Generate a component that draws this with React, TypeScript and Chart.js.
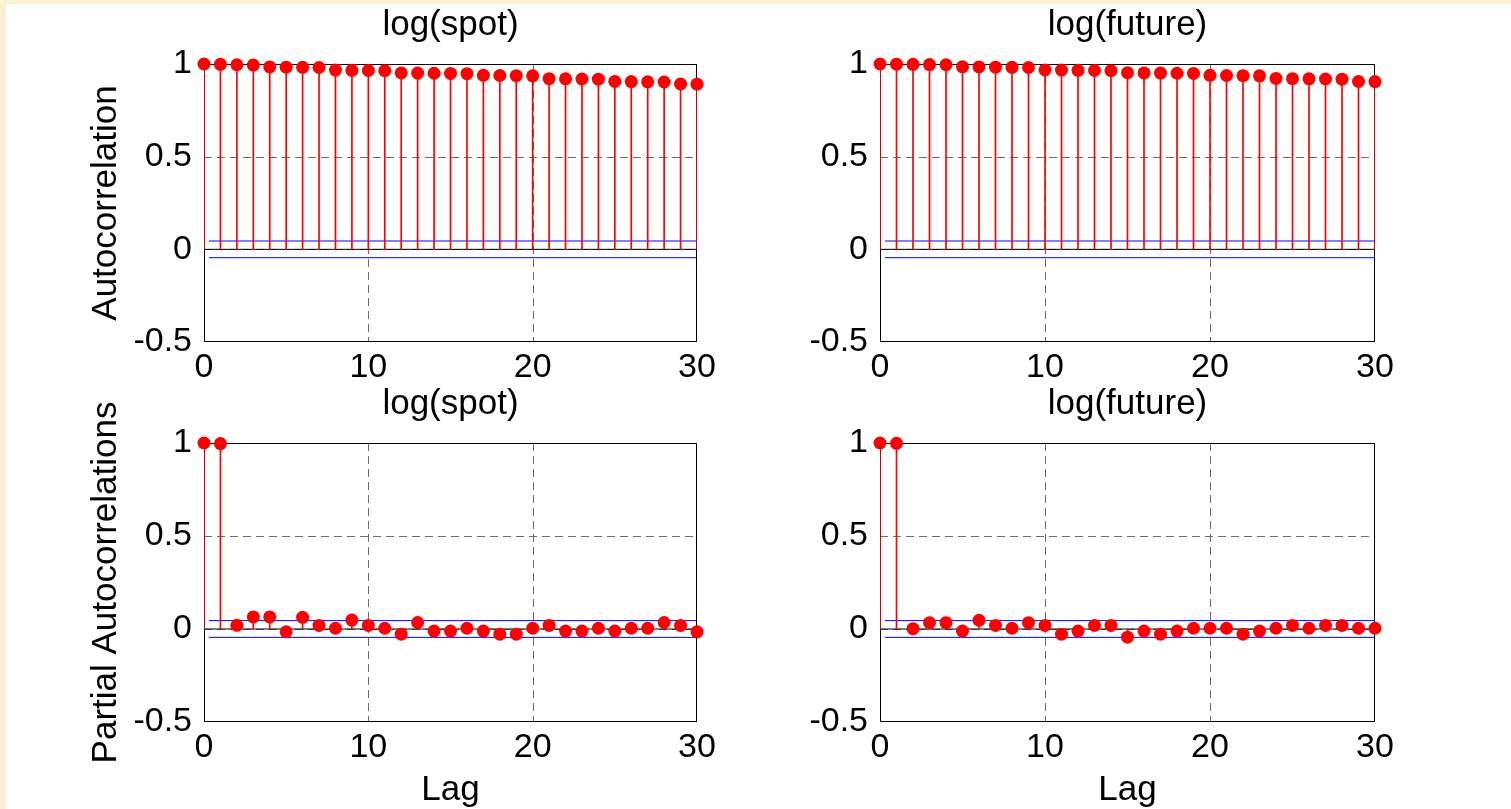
import React, { useEffect, useRef } from "react";
import { Chart, registerables } from "chart.js";

Chart.register(...registerables);

// Lags shown on every panel
const LAGS = [0, 1, 2, 3, 4, 5, 6, 7, 8, 9, 10, 11, 12, 13, 14, 15, 16, 17, 18, 19, 20, 21, 22, 23, 24, 25, 26, 27, 28, 29, 30];

// Sample autocorrelations
const ACF_SPOT = [
  1, 0.998, 0.996, 0.994, 0.984, 0.983, 0.982, 0.981, 0.967, 0.966, 0.965, 0.964, 0.952, 0.951, 0.95, 0.949,
  0.948, 0.939, 0.938, 0.937, 0.936, 0.921, 0.92, 0.919, 0.918, 0.906, 0.905, 0.904, 0.903, 0.892, 0.891,
];
const ACF_FUTURE = [
  1, 0.999, 0.998, 0.997, 0.996, 0.985, 0.984, 0.983, 0.982, 0.981, 0.968, 0.967, 0.966, 0.965, 0.964, 0.953,
  0.952, 0.951, 0.95, 0.949, 0.939, 0.938, 0.937, 0.936, 0.922, 0.921, 0.92, 0.919, 0.918, 0.906, 0.905,
];

// Sample partial autocorrelations
const PACF_SPOT = [
  1, 0.997, 0.02, 0.065, 0.065, -0.015, 0.063, 0.019, 0.004, 0.048, 0.019, 0.004, -0.028, 0.035, -0.011, -0.011,
  0.004, -0.011, -0.028, -0.028, 0.004, 0.019, -0.011, -0.011, 0.004, -0.011, 0.004, 0.004, 0.035, 0.019, -0.015,
];
const PACF_FUTURE = [
  1, 0.998, 0.002, 0.034, 0.034, -0.011, 0.047, 0.019, 0.004, 0.034, 0.019, -0.028, -0.011, 0.019, 0.019, -0.044,
  -0.011, -0.028, -0.011, 0.004, 0.004, 0.004, -0.028, -0.011, 0.004, 0.019, 0.004, 0.019, 0.019, 0.004, 0.004,
];

// Approximate 95% confidence bound and the lag where it starts
const CONF_BOUND = 0.045;
const BOUND_FROM_LAG = 0.3;

// Axes
const X_TICKS = [0, 10, 20, 30];
const X_TICK_LABELS = ["0", "10", "20", "30"];
const Y_TICKS = [-0.5, 0, 0.5, 1];
const Y_TICK_LABELS = ["-0.5", "0", "0.5", "1"];
const X_GRID = [10, 20];
const Y_GRID = [0, 0.5];

const FONT = "'Liberation Sans', Arial, Helvetica, sans-serif";
const RED = "#ff0000";
const TICK_SIZE = 34;
const LABEL_SIZE = 35;
const TITLE_SIZE = 35;

// Dashed grid, axes box and panel title
const framePlugin = {
  id: "panelFrame",
  beforeDatasetsDraw(chart: any) {
    const { ctx, chartArea: a, scales } = chart;
    const xs = scales.x;
    const ys = scales.y;
    ctx.save();
    ctx.lineWidth = 1;
    ctx.strokeStyle = "#6e6e6e";
    ctx.setLineDash([8, 5]);
    X_GRID.forEach((v) => {
      const px = Math.round(xs.getPixelForValue(v)) + 0.5;
      ctx.beginPath();
      ctx.moveTo(px, a.top);
      ctx.lineTo(px, a.bottom);
      ctx.stroke();
    });
    Y_GRID.forEach((v) => {
      const py = Math.round(ys.getPixelForValue(v)) + 0.5;
      ctx.beginPath();
      ctx.moveTo(a.left, py);
      ctx.lineTo(a.right, py);
      ctx.stroke();
    });
    ctx.setLineDash([]);
    ctx.strokeStyle = "#000000";
    const l = Math.round(a.left) + 0.5;
    const t = Math.round(a.top) + 0.5;
    const r = Math.round(a.right) - 0.5;
    const b = Math.round(a.bottom) - 0.5;
    ctx.strokeRect(l, t, r - l, b - t);
    ctx.restore();
  },
  afterDraw(chart: any, _args: any, opts: any) {
    const { ctx, chartArea: a } = chart;
    ctx.save();
    ctx.fillStyle = "#000000";
    ctx.font = `${TITLE_SIZE}px ${FONT}`;
    ctx.textAlign = "center";
    ctx.textBaseline = "middle";
    ctx.fillText(opts.text, (a.left + a.right) / 2, a.top - 38.5);
    ctx.restore();
  },
};

type PanelProps = {
  values: number[];
  title: string;
  yTitle?: string;
  xTitle?: string;
  left: number;
  top: number;
  width: number;
  height: number;
  padTop: number;
  padRight: number;
  yWidth: number;
  xHeight: number;
};

function Panel(p: PanelProps) {
  const ref = useRef<HTMLCanvasElement | null>(null);

  useEffect(() => {
    if (!ref.current) return;
    const points = LAGS.map((lag, i) => ({ x: lag, y: p.values[i] }));
    const tickFont = { family: FONT, size: TICK_SIZE, lineHeight: 1 };
    const labelFont = { family: FONT, size: LABEL_SIZE, lineHeight: 1 };

    const chart = new Chart(ref.current, {
      type: "line",
      data: {
        datasets: [
          {
            type: "line",
            data: points,
            showLine: false,
            pointRadius: 6.5,
            pointHoverRadius: 6.5,
            pointBackgroundColor: RED,
            pointBorderWidth: 0,
            clip: false,
            order: 0,
          } as any,
          {
            type: "bar",
            data: points,
            backgroundColor: RED,
            borderWidth: 0,
            barThickness: 1,
            order: 1,
          } as any,
          {
            type: "line",
            data: [
              { x: BOUND_FROM_LAG, y: CONF_BOUND },
              { x: LAGS[LAGS.length - 1], y: CONF_BOUND },
            ],
            borderColor: "#0000ff",
            borderWidth: 1,
            pointRadius: 0,
            order: 2,
          } as any,
          {
            type: "line",
            data: [
              { x: BOUND_FROM_LAG, y: -CONF_BOUND },
              { x: LAGS[LAGS.length - 1], y: -CONF_BOUND },
            ],
            borderColor: "#0000ff",
            borderWidth: 1,
            pointRadius: 0,
            order: 2,
          } as any,
          {
            type: "line",
            data: [
              { x: LAGS[0], y: 0 },
              { x: LAGS[LAGS.length - 1], y: 0 },
            ],
            borderColor: "#000000",
            borderWidth: 1,
            pointRadius: 0,
            order: 3,
          } as any,
        ],
      },
      options: {
        responsive: false,
        animation: false,
        events: [],
        layout: { padding: { left: 0, top: p.padTop, right: p.padRight, bottom: 0 } },
        plugins: {
          legend: { display: false },
          tooltip: { enabled: false },
          title: { display: false },
          panelFrame: { text: p.title },
        } as any,
        scales: {
          x: {
            type: "linear",
            min: 0,
            max: 30,
            offset: false,
            grid: { display: false, drawTicks: false },
            border: { display: false },
            afterBuildTicks: (s: any) => {
              s.ticks = X_TICKS.map((v) => ({ value: v }));
            },
            afterFit: (s: any) => {
              s.height = p.xHeight;
            },
            ticks: {
              font: tickFont,
              color: "#000000",
              padding: 9,
              maxRotation: 0,
              autoSkip: false,
              callback: (_v: any, i: number) => X_TICK_LABELS[i],
            },
            title: p.xTitle
              ? { display: true, text: p.xTitle, color: "#000000", font: labelFont, padding: { top: 0, bottom: 1 } }
              : { display: false },
          },
          y: {
            type: "linear",
            min: -0.5,
            max: 1,
            grid: { display: false, drawTicks: false },
            border: { display: false },
            afterBuildTicks: (s: any) => {
              s.ticks = Y_TICKS.map((v) => ({ value: v }));
            },
            afterFit: (s: any) => {
              s.width = p.yWidth;
            },
            ticks: {
              font: tickFont,
              color: "#000000",
              padding: 12,
              autoSkip: false,
              callback: (_v: any, i: number) => Y_TICK_LABELS[i],
            },
            title: p.yTitle
              ? { display: true, text: p.yTitle, color: "#000000", font: labelFont, padding: { top: 89, bottom: 0 } }
              : { display: false },
          },
        } as any,
      },
      plugins: [framePlugin],
    } as any);

    return () => chart.destroy();
  }, []);

  return (
    <canvas
      ref={ref}
      width={p.width}
      height={p.height}
      style={{ position: "absolute", left: p.left, top: p.top, width: p.width, height: p.height, display: "block" }}
    />
  );
}

export default function App() {
  return (
    <div
      style={{
        position: "absolute",
        left: 0,
        top: 0,
        width: 1511,
        height: 809,
        overflow: "hidden",
        background: "#fbefd5",
      }}
    >
      <div style={{ position: "absolute", left: 6, top: 4, right: 0, bottom: 0, background: "#ffffff" }} />
      <Panel
        values={ACF_SPOT}
        title="log(spot)"
        yTitle="Autocorrelation"
        left={0}
        top={0}
        width={760}
        height={385}
        padTop={64}
        padRight={63}
        yWidth={204}
        xHeight={43}
      />
      <Panel
        values={ACF_FUTURE}
        title="log(future)"
        left={760}
        top={0}
        width={751}
        height={385}
        padTop={64}
        padRight={136}
        yWidth={120}
        xHeight={43}
      />
      <Panel
        values={PACF_SPOT}
        title="log(spot)"
        yTitle="Partial Autocorrelations"
        xTitle="Lag"
        left={0}
        top={385}
        width={760}
        height={424}
        padTop={58}
        padRight={63}
        yWidth={204}
        xHeight={87}
      />
      <Panel
        values={PACF_FUTURE}
        title="log(future)"
        xTitle="Lag"
        left={760}
        top={385}
        width={751}
        height={424}
        padTop={58}
        padRight={136}
        yWidth={120}
        xHeight={87}
      />
    </div>
  );
}
